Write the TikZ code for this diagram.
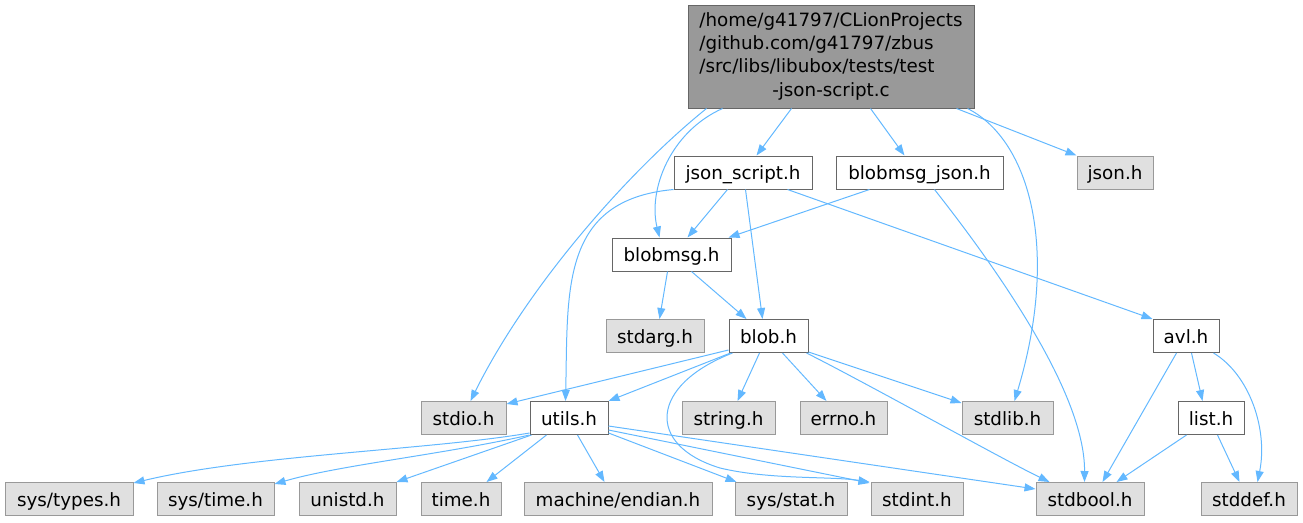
\documentclass[tikz,border=0pt]{standalone}
\usepackage{fontspec}
\setmainfont{DejaVu Sans}
\usetikzlibrary{arrows.meta}
\definecolor{edgeblue}{HTML}{63B8FF}
\definecolor{darkborder}{HTML}{666666}
\definecolor{lightborder}{HTML}{999999}
\definecolor{topfill}{HTML}{999999}
\definecolor{grayfill}{HTML}{E0E0E0}
\tikzset{
  basebox/.style={line width=1pt, inner sep=0pt, minimum height=33pt, text height=15pt, text depth=1pt},
  wbox/.style={basebox, draw=darkborder, fill=white},
  gbox/.style={basebox, draw=lightborder, fill=grayfill},
  hdr/.style={draw=darkborder, fill=topfill, line width=1pt, inner sep=0pt, minimum width=286pt, minimum height=103pt},
  dep/.style={draw=edgeblue, line width=1pt, -{Triangle[length=11pt,width=8pt]}}
}
\begin{document}
\begin{tikzpicture}[x=1pt,y=-1pt,font=\fontsize{18.3}{23.3}\selectfont]
\useasboundingbox (0,0) rectangle (1303,522);
% nodes
\node[hdr] (top) at (831,56.5) {\begin{tabular}{@{}l@{}}/home/g41797/CLionProjects\\/github.com/g41797/zbus\\/src/libs/libubox/tests/test\\\multicolumn{1}{@{}c@{}}{-json-script.c}\end{tabular}};
\node[wbox, minimum width=138pt] (js) at (743,172.5) {json\_script.h};
\node[wbox, minimum width=167pt] (bj) at (919.5,172.5) {blobmsg\_json.h};
\node[gbox, minimum width=76pt] (json) at (1115,172.5) {json.h};
\node[wbox, minimum width=119pt] (bm) at (671.5,254.5) {blobmsg.h};
\node[gbox, minimum width=98pt] (sa) at (655,336) {stdarg.h};
\node[wbox, minimum width=79pt] (blob) at (768.5,336) {blob.h};
\node[wbox, minimum width=66pt] (avl) at (1186,336) {avl.h};
\node[gbox, minimum width=85pt] (stdio) at (463.5,418) {stdio.h};
\node[wbox, minimum width=78pt] (utils) at (569,418) {utils.h};
\node[gbox, minimum width=93pt] (string) at (728.5,418) {string.h};
\node[gbox, minimum width=87pt] (errno) at (843.5,418) {errno.h};
\node[gbox, minimum width=91pt] (stdlib) at (1007.5,418) {stdlib.h};
\node[wbox, minimum width=66pt] (list) at (1211,418) {list.h};
\node[gbox, minimum width=128pt] (systypes) at (69,499) {sys/types.h};
\node[gbox, minimum width=117pt] (systime) at (215.5,499) {sys/time.h};
\node[gbox, minimum width=97pt] (unistd) at (347.5,499) {unistd.h};
\node[gbox, minimum width=80pt] (time) at (461,499) {time.h};
\node[gbox, minimum width=188pt] (endian) at (618,499) {machine/endian.h};
\node[gbox, minimum width=112pt] (sysstat) at (791,499) {sys/stat.h};
\node[gbox, minimum width=92pt] (stdint) at (917,499) {stdint.h};
\node[gbox, minimum width=108pt] (stdbool) at (1090,499) {stdbool.h};
\node[gbox, minimum width=96pt] (stddef) at (1249,499) {stddef.h};
% edges from top
\draw[dep] ([xshift=19pt]top.south west) .. controls (630,170) and (528,285) .. ([xshift=50pt]stdio.north west);
\draw[dep] ([xshift=35pt]top.south west) .. controls (670,132) and (648,190) .. ([xshift=48pt]bm.north west);
\draw[dep] ([xshift=104pt]top.south west) -- ([xshift=83pt]js.north west);
\draw[dep] ([xshift=183pt]top.south west) -- ([xshift=69pt]bj.north west);
\draw[dep] ([xshift=269pt]top.south west) -- (json.north west);
\draw[dep] ([xshift=280pt]top.south west) .. controls (1030,140) and (1060,250) .. ([xshift=53pt]stdlib.north west);
% json_script.h
\draw[dep] ([xshift=54pt]js.south west) -- ([xshift=76pt]bm.north west);
\draw[dep] ([xshift=72pt]js.south west) -- ([xshift=34pt]blob.north west);
\draw[dep] ([xshift=114pt]js.south west) -- (avl.north west);
\draw[dep] (js.south west) .. controls (560,200) and (568,290) .. ([xshift=36pt]utils.north west);
% blobmsg_json.h
\draw[dep] ([xshift=34pt]bj.south west) -- ([xshift=-3pt]bm.north east);
\draw[dep] ([xshift=99pt]bj.south west) .. controls (990,260) and (1085,390) .. ([xshift=49pt]stdbool.north west);
% blobmsg.h
\draw[dep] ([xshift=56pt]bm.south west) -- ([xshift=54pt]sa.north west);
\draw[dep] ([xshift=80pt]bm.south west) -- ([xshift=18pt]blob.north west);
% blob.h
\draw[dep] ([yshift=3pt]blob.south west) -- ([yshift=-3pt]stdio.north east);
\draw[dep] ([xshift=2pt]blob.south west) -- (utils.north east);
\draw[dep] ([xshift=31pt]blob.south west) -- ([xshift=56pt]string.north west);
\draw[dep] ([xshift=54pt]blob.south west) -- ([xshift=27pt]errno.north west);
\draw[dep] ([yshift=1pt]blob.south east) -- ([yshift=-2pt]stdlib.north west);
\draw[dep] ([xshift=-2pt]blob.south east) .. controls (870,385) and (1000,458) .. ([xshift=14pt]stdbool.north west);
\draw[dep] ([xshift=4pt]blob.south west) .. controls (650,385) and (645,445) .. (720,468) .. controls (770,480) and (830,476) .. ([xshift=-1pt]stdint.north west);
% utils.h
\draw[dep] ([yshift=2pt]utils.south west) .. controls (430,450) and (250,455) .. ([yshift=-1pt]systypes.north east);
\draw[dep] (utils.south west) .. controls (440,455) and (340,465) .. ([yshift=-2pt]systime.north east);
\draw[dep] ([xshift=2pt]utils.south west) -- (unistd.north east);
\draw[dep] ([xshift=17pt]utils.south west) -- ([xshift=66pt]time.north west);
\draw[dep] ([xshift=48pt]utils.south west) -- ([xshift=81pt]endian.north west);
\draw[dep] ([yshift=2pt]utils.south east) -- ([xshift=2pt]sysstat.north west);
\draw[dep] ([yshift=5pt]utils.south east) -- ([xshift=-1pt,yshift=-1pt]stdint.north west);
\draw[dep] ([yshift=9pt]utils.south east) -- ([yshift=-7pt]stdbool.north west);
% avl.h
\draw[dep] ([xshift=24pt]avl.south west) -- ([xshift=67pt]stdbool.north west);
\draw[dep] ([xshift=39pt]avl.south west) -- ([xshift=25pt]list.north west);
\draw[dep] ([xshift=-6pt]avl.south east) .. controls (1250,375) and (1268,430) .. ([xshift=57pt]stddef.north west);
% list.h
\draw[dep] ([xshift=9pt]list.south west) -- ([xshift=81pt]stdbool.north west);
\draw[dep] ([xshift=40pt]list.south west) -- ([xshift=39pt]stddef.north west);
\end{tikzpicture}
\end{document}
